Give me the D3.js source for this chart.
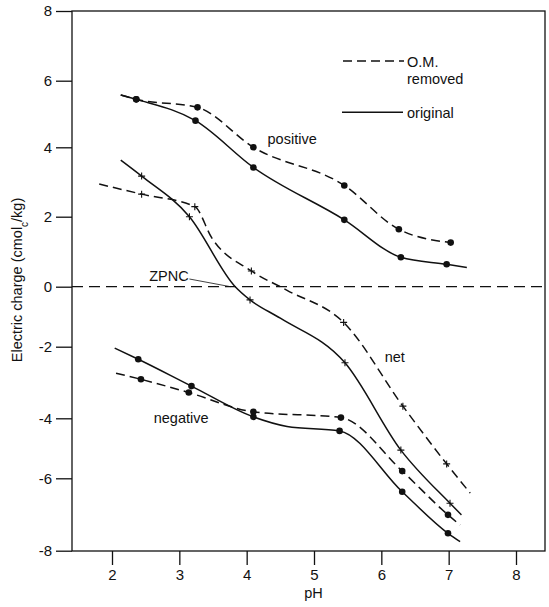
<!DOCTYPE html>
<html><head><meta charset="utf-8">
<script src="https://cdn.jsdelivr.net/npm/d3@7"></script>
<style>body{margin:0;background:#fff}svg{display:block}</style>
</head><body>
<svg id="chart" width="549" height="607"></svg>
<script>
// ---- data (pH, charge in cmolc/kg); mark flags: 1 = measured point drawn with a marker ----
const xTicks = [2, 3, 4, 5, 6, 7, 8];
const yTicks = [-8, -6, -4, -2, 0, 2, 4, 6, 8];

const posOrigPH = [2.13, 2.36, 3.24, 4.10, 5.45, 6.29, 6.97, 7.27];
const posOrigQ  = [5.57, 5.44, 4.80, 3.42, 1.91, 0.84, 0.64, 0.55];
const posOrigM  = [0, 1, 1, 1, 1, 1, 1, 0];

const posRemPH = [2.13, 2.36, 3.27, 4.10, 5.45, 6.26, 7.03];
const posRemQ  = [5.57, 5.44, 5.20, 4.00, 2.90, 1.64, 1.26];
const posRemM  = [0, 1, 1, 1, 1, 1, 1];

const netOrigPH = [2.13, 2.44, 3.15, 3.83, 4.05, 4.50, 5.46, 6.29, 7.02, 7.19];
const netOrigQ  = [3.63, 3.17, 2.00, 0.00, -0.44, -1.05, -2.45, -5.06, -6.69, -7.01];
const netOrigM  = [0, 1, 1, 0, 1, 0, 1, 1, 1, 0];

const netRemPH = [1.81, 2.44, 3.23, 3.48, 4.07, 4.60, 5.44, 6.32, 6.97, 7.32];
const netRemQ  = [2.94, 2.65, 2.29, 1.40, 0.45, -0.12, -1.19, -3.66, -5.52, -6.41];
const netRemM  = [0, 1, 1, 0, 1, 0, 1, 1, 1, 0];

const negOrigPH = [2.04, 2.39, 3.18, 4.10, 4.60, 5.38, 6.31, 6.99, 7.17];
const negOrigQ  = [-2.04, -2.35, -3.10, -3.96, -4.27, -4.42, -6.37, -7.52, -7.75];
const negOrigM  = [0, 1, 1, 1, 0, 1, 1, 1, 0];

const negRemPH = [2.06, 2.43, 3.14, 4.10, 5.40, 6.31, 6.99, 7.17];
const negRemQ  = [-2.74, -2.91, -3.28, -3.82, -3.98, -5.76, -7.01, -7.29];
const negRemM  = [0, 1, 1, 1, 1, 1, 1, 0];

// ---- build series table ----
function series(ph, q, m, dashed, marker) {
  return { dashed, marker, pts: ph.map((p, i) => ({ ph: p, q: q[i], m: m[i] })) };
}
const allSeries = [
  series(posOrigPH, posOrigQ, posOrigM, false, "dot"),
  series(posRemPH, posRemQ, posRemM, true, "dot"),
  series(netOrigPH, netOrigQ, netOrigM, false, "plus"),
  series(netRemPH, netRemQ, netRemM, true, "plus"),
  series(negOrigPH, negOrigQ, negOrigM, false, "dot"),
  series(negRemPH, negRemQ, negRemM, true, "dot")
];

// ---- layout ----
const FONT = '"Liberation Sans", Arial, Helvetica, sans-serif';
const pLeft = 72, pRight = 545, pTop = 11, pBottom = 551;
const svg = d3.select("#chart");

const x = d3.scaleLinear().domain([2, 8]).range([112, 516]);
// scanned figure: tick spacing slightly uneven, follow it piecewise
const y = d3.scaleLinear().domain(yTicks)
  .range([550.7, 478.3, 418.3, 346.7, 286.7, 216.7, 147.3, 80.7, 11]);

// frame
svg.append("rect").attr("x", pLeft).attr("y", pTop)
  .attr("width", pRight - pLeft).attr("height", pBottom - pTop)
  .attr("fill", "none").attr("stroke", "#111").attr("stroke-width", 1.3);

// axes
const yAxis = svg.append("g").attr("transform", `translate(${pLeft},0)`)
  .call(d3.axisLeft(y).tickValues(yTicks).tickSize(16).tickPadding(4)
    .tickFormat(d => String(d)));
const xAxis = svg.append("g").attr("transform", `translate(0,${pBottom})`)
  .call(d3.axisBottom(x).tickValues(xTicks).tickSize(14).tickPadding(4)
    .tickFormat(d => String(d)));
[yAxis, xAxis].forEach(g => {
  g.select(".domain").remove();
  g.selectAll("line").attr("stroke", "#111").attr("stroke-width", 1.3);
  g.selectAll("text").attr("fill", "#111").style("font-family", FONT).style("font-size", "15px");
});

// zero line
svg.append("line").attr("x1", pLeft).attr("x2", pRight)
  .attr("y1", y(0)).attr("y2", y(0))
  .attr("stroke", "#111").attr("stroke-width", 1.2).attr("stroke-dasharray", "11,6");

// curves
const line = d3.line().x(d => x(d.ph)).y(d => y(d.q)).curve(d3.curveMonotoneX);
allSeries.forEach(s => {
  svg.append("path").attr("d", line(s.pts)).attr("fill", "none")
    .attr("stroke", "#111").attr("stroke-width", 1.5)
    .attr("stroke-dasharray", s.dashed ? "9,5" : null);
  const mk = s.pts.filter(p => p.m);
  if (s.marker === "dot") {
    svg.selectAll(null).data(mk).enter().append("circle")
      .attr("cx", d => x(d.ph)).attr("cy", d => y(d.q)).attr("r", 3.3).attr("fill", "#111");
  } else {
    svg.selectAll(null).data(mk).enter().append("path")
      .attr("d", d => { const cx = x(d.ph), cy = y(d.q);
        return `M${cx-3.5},${cy}H${cx+3.5}M${cx},${cy-3.5}V${cy+3.5}`; })
      .attr("stroke", "#111").attr("stroke-width", 1.1);
  }
});

// annotations
function label(txt, ph, q, anchor) {
  return svg.append("text").attr("x", x(ph)).attr("y", y(q))
    .attr("text-anchor", anchor || "start").attr("fill", "#111")
    .style("font-family", FONT).style("font-size", "14.5px").text(txt);
}
label("positive", 4.31, 4.10);
label("net", 6.05, -2.42);
label("negative", 2.62, -4.17);
label("ZPNC", 3.14, 0.15, "end");
svg.append("line").attr("x1", x(3.15)).attr("y1", y(0.22))
  .attr("x2", x(3.76)).attr("y2", y(0.0))
  .attr("stroke", "#111").attr("stroke-width", 0.8);

// legend
svg.append("line").attr("x1", 343).attr("x2", 404).attr("y1", 61).attr("y2", 61)
  .attr("stroke", "#111").attr("stroke-width", 1.5).attr("stroke-dasharray", "9,5");
svg.append("line").attr("x1", 342).attr("x2", 403).attr("y1", 112.3).attr("y2", 112.3)
  .attr("stroke", "#111").attr("stroke-width", 1.5);
[["O.M.", 66.5], ["removed", 84], ["original", 118]].forEach(([t, yy]) => {
  svg.append("text").attr("x", 407).attr("y", yy).attr("fill", "#111")
    .style("font-family", FONT).style("font-size", "14.5px").text(t);
});

// axis titles
svg.append("text").attr("x", 313.5).attr("y", 597.5).attr("text-anchor", "middle")
  .attr("fill", "#111").style("font-family", FONT).style("font-size", "14.5px").text("pH");
const yt = svg.append("text").attr("transform", "translate(22,280) rotate(-90)")
  .attr("text-anchor", "middle").attr("fill", "#111")
  .style("font-family", FONT).style("font-size", "14.5px");
yt.append("tspan").text("Electric charge (cmol");
yt.append("tspan").attr("baseline-shift", "sub").style("font-size", "10px").text("c");
yt.append("tspan").text("/kg)");
</script>
</body></html>
